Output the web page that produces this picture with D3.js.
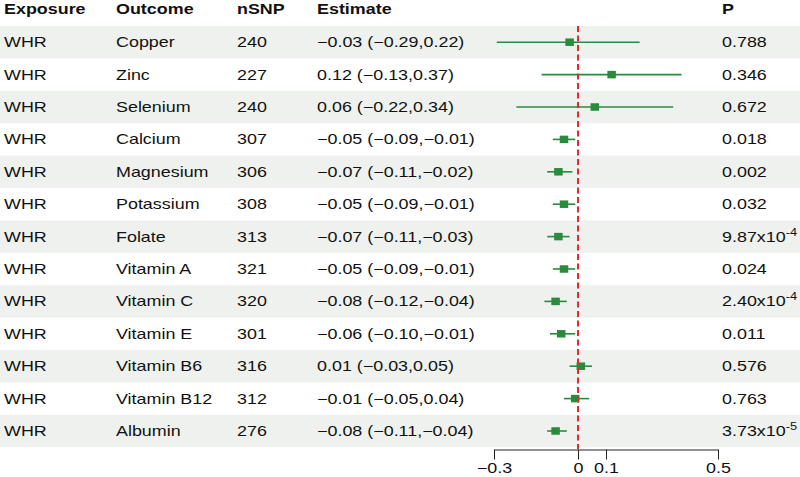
<!DOCTYPE html>
<html>
<head>
<meta charset="utf-8">
<script src="https://cdn.jsdelivr.net/npm/d3@7"></script>
<style>
  html, body { margin: 0; padding: 0; background: #fff; }
  svg { display: block; font-family: "Liberation Sans", Arial, Helvetica, sans-serif; }
</style>
</head>
<body>
<svg id="chart" width="800" height="477"></svg>
<script>
// ---- data ----
const exposures = ["WHR","WHR","WHR","WHR","WHR","WHR","WHR","WHR","WHR","WHR","WHR","WHR","WHR"];
const outcomes = ["Copper","Zinc","Selenium","Calcium","Magnesium","Potassium","Folate","Vitamin A","Vitamin C","Vitamin E","Vitamin B6","Vitamin B12","Albumin"];
const nsnp = [240,227,240,307,306,308,313,321,320,301,316,312,276];
const estimates = [-0.03,0.12,0.06,-0.05,-0.07,-0.05,-0.07,-0.05,-0.08,-0.06,0.01,-0.01,-0.08];
const lower = [-0.29,-0.13,-0.22,-0.09,-0.11,-0.09,-0.11,-0.09,-0.12,-0.10,-0.03,-0.05,-0.11];
const upper = [0.22,0.37,0.34,-0.01,-0.02,-0.01,-0.03,-0.01,-0.04,-0.01,0.05,0.04,-0.04];
const pvalues = ["0.788","0.346","0.672","0.018","0.002","0.032","9.87x10^-4","0.024","2.40x10^-4","0.011","0.576","0.763","3.73x10^-5"];
const headers = ["Exposure","Outcome","nSNP","Estimate","P"];
const tickValues = [-0.3, 0, 0.1, 0.5];

// ---- layout ----
const W = 800, H = 477;
const sx = 1.28;           // horizontal text stretch seen in reference
const fontSize = 14;
const rowTop = 26, rowH = 32.4;
const colX = [4, 116, 237, 317, 722];
const green = "#2b8a3e", red = "#e8292c", shade = "#eef1ee";

const svg = d3.select("#chart");
const x = d3.scaleLinear().domain([-0.3, 0.5]).range([494, 718]);
const y = d3.scaleBand().domain(d3.range(outcomes.length))
  .range([rowTop, rowTop + rowH * outcomes.length]).padding(0);
const yc = i => y(i) + y.bandwidth() / 2;

const fmt = v => (v < 0 ? "\u2212" : "") + Math.abs(v).toFixed(2);

// row shading
svg.append("g").selectAll("rect")
  .data(d3.range(outcomes.length).filter(i => i % 2 === 0))
  .join("rect")
  .attr("x", 0).attr("width", W)
  .attr("y", i => y(i)).attr("height", y.bandwidth())
  .attr("fill", shade);

function addText(g, tx, ty, str, bold) {
  const t = g.append("text")
    .attr("transform", `translate(${tx},${ty}) scale(${sx},1)`)
    .attr("font-size", fontSize)
    .attr("fill", "#111")
    .attr("font-weight", bold ? "bold" : "normal");
  const m = str.match(/^(.*)\^(.*)$/);
  if (m) {
    t.append("tspan").text(m[1]);
    t.append("tspan").attr("font-size", 10).attr("dy", -6).text(m[2]);
  } else {
    t.text(str);
  }
  return t;
}

// headers
const hg = svg.append("g");
headers.forEach((h, j) => addText(hg, colX[j], 13.5, h, true));

// rows
const tg = svg.append("g");
outcomes.forEach((o, i) => {
  const by = yc(i) + 5;
  addText(tg, colX[0], by, exposures[i]);
  addText(tg, colX[1], by, o);
  addText(tg, colX[2], by, String(nsnp[i]));
  addText(tg, colX[3], by, `${fmt(estimates[i])} (${fmt(lower[i])},${fmt(upper[i])})`);
  addText(tg, colX[4], by, pvalues[i]);
});

// CI lines
const mg = svg.append("g");
mg.selectAll("line.ci").data(d3.range(outcomes.length)).join("line")
  .attr("class", "ci")
  .attr("x1", i => x(lower[i])).attr("x2", i => x(upper[i]))
  .attr("y1", i => yc(i)).attr("y2", i => yc(i))
  .attr("stroke", green).attr("stroke-width", 1.6);
// squares
const sw = 8.5, sh = 7.5;
mg.selectAll("rect.pt").data(d3.range(outcomes.length)).join("rect")
  .attr("class", "pt")
  .attr("x", i => x(estimates[i]) - sw / 2).attr("y", i => yc(i) - sh / 2)
  .attr("width", sw).attr("height", sh)
  .attr("fill", green);

// reference line
svg.append("line")
  .attr("x1", x(0)).attr("x2", x(0))
  .attr("y1", rowTop).attr("y2", 449)
  .attr("stroke", red).attr("stroke-width", 2)
  .attr("stroke-dasharray", "6,3.5");

// axis
const axis = d3.axisBottom(x)
  .tickValues(tickValues)
  .tickSize(10).tickSizeOuter(0)
  .tickFormat(d => d === 0 ? "0" : (d < 0 ? "\u2212" : "") + Math.abs(d));
const ag = svg.append("g").attr("transform", "translate(0,449.5)").call(axis);
ag.select(".domain").attr("stroke", "#222").attr("stroke-width", 1);
ag.selectAll(".tick line").attr("stroke", "#222").attr("stroke-width", 1);
ag.selectAll(".tick text")
  .attr("font-size", fontSize).attr("font-family", "Liberation Sans, Arial, sans-serif")
  .attr("fill", "#111")
  .attr("y", 24).attr("dy", 0)
  .attr("transform", `scale(${sx},1)`);
</script>
</body>
</html>
